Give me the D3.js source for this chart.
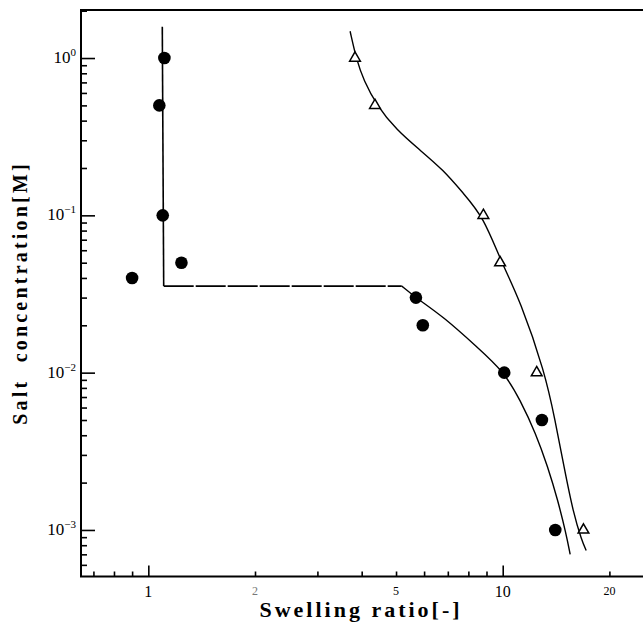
<!DOCTYPE html>
<html>
<head>
<meta charset="utf-8">
<script src="https://cdn.jsdelivr.net/npm/d3@7"></script>
<style>
  body { margin: 0; background: #fff; }
  svg { display: block; }
  text { font-family: "Liberation Serif", "Times New Roman", serif; }
</style>
</head>
<body>
<svg id="chart" width="643" height="630"></svg>
<script>
// filled circles
const swellCircle = [0.90, 1.11, 1.074, 1.098, 1.24, 5.69, 5.95, 10.1, 12.9, 14.07];
const saltCircle = [0.04, 1.0, 0.5, 0.1, 0.05, 0.03, 0.02, 0.01, 0.005, 0.001];
// open triangles
const swellTri = [3.83, 4.36, 8.82, 9.83, 12.47, 16.9];
const saltTri = [1.0, 0.5, 0.1, 0.05, 0.01, 0.001];

// fitted line for circles: vertical part, plateau, falling part
const fitVertX = [1.095, 1.105];
const fitVertY = [1.58, 0.0355];
const fitFlatX = [1.105, 5.19];
const fitFlatY = [0.0355, 0.0355];
const fitFallX = [5.19, 5.69, 6.8, 8.45, 10.1, 11.2, 12.4, 13.4, 14.3, 15.09, 15.5];
const fitFallY = [0.0355, 0.0299, 0.0227, 0.0146, 0.0101, 0.0067, 0.00411, 0.00252, 0.00155, 0.00095, 0.0007];
// fitted line for triangles
const fitTriX = [3.71, 3.87, 4.05, 4.41, 5.02, 5.84, 6.80, 7.74, 8.82, 9.94, 11.19, 13.16, 14.05, 14.89, 15.82, 16.71, 17.2];
const fitTriY = [1.48, 0.97, 0.725, 0.50, 0.348, 0.26, 0.194, 0.138, 0.098, 0.0495, 0.029, 0.01, 0.005, 0.00252, 0.00128, 0.00086, 0.00074];

// ticks
const xMajor = [1, 10];
const xMinor = [0.7, 0.8, 0.9, 2, 3, 4, 5, 6, 7, 8, 9, 20];
const xLabelsBig = [1, 10];
const xLabelsSmall = [2, 5, 20];
const yMajor = [1e-3, 1e-2, 1e-1, 1];
const yExp = ["-3", "-2", "-1", "0"];
const yMinor = [];
[1e-4, 1e-3, 1e-2, 1e-1, 1].forEach(d => {
    for (let k = 2; k <= 9; k++) yMinor.push(d * k);
});

const svg = d3.select("#chart");
const mLeft = 81, mRight = 643, mTop = 10, mBottom = 576.5;

const x = d3.scaleLog().domain([0.6457, 24.88]).range([mLeft, mRight]);
const y = d3.scaleLog().domain([5.06e-4, 2.02]).range([mBottom, mTop]);
const yMin = y.domain()[0], yMax = y.domain()[1];

// frame: left, bottom, top
svg.append("path")
    .attr("d", `M${mRight},${mTop}H${mLeft}V${mBottom}H${mRight}`)
    .attr("fill", "none")
    .attr("stroke", "#000")
    .attr("stroke-width", 2);

// x ticks (pointing inward)
let gx = svg.append("g").attr("transform", `translate(0,${mBottom})`);
gx.call(d3.axisBottom(x).tickValues(xMajor).tickSize(-11).tickFormat(""));
gx.append("g").call(d3.axisBottom(x).tickValues(xMinor).tickSize(-5).tickFormat(""));
gx.selectAll(".domain").remove();
gx.selectAll("line").attr("stroke-width", 1.6);

// y ticks
let gy = svg.append("g").attr("transform", `translate(${mLeft},0)`);
gy.call(d3.axisLeft(y).tickValues(yMajor).tickSize(-14).tickFormat(""));
gy.append("g").call(d3.axisLeft(y).tickValues(yMinor.filter(d => d > yMin && d < yMax)).tickSize(-6).tickFormat(""));
gy.selectAll(".domain").remove();
gy.selectAll("line").attr("stroke-width", 1.6);

// x labels
svg.append("g").selectAll("text")
    .data(xLabelsBig)
    .enter()
    .append("text")
    .attr("x", d => x(d))
    .attr("y", 597)
    .attr("text-anchor", "middle")
    .attr("font-size", 16)
    .text(d => d);
svg.append("g").selectAll("text")
    .data(xLabelsSmall)
    .enter()
    .append("text")
    .attr("x", d => x(d))
    .attr("y", 595)
    .attr("text-anchor", "middle")
    .attr("font-size", 12)
    .attr("fill", d => d === 2 ? "#777" : "#000")
    .text(d => d);

// y labels 10^n
let yl = svg.append("g").selectAll("text")
    .data(yMajor)
    .enter()
    .append("text")
    .attr("x", 76)
    .attr("y", d => y(d) + 5)
    .attr("text-anchor", "end")
    .attr("font-size", 17);
yl.append("tspan").text("10");
yl.append("tspan")
    .attr("dy", -7)
    .attr("font-size", 11)
    .text((d, i) => yExp[i].replace("-", "\u2212"));

// axis titles
svg.append("text")
    .attr("x", 361)
    .attr("y", 617)
    .attr("text-anchor", "middle")
    .attr("font-size", 22)
    .attr("font-weight", "bold")
    .attr("letter-spacing", 3)
    .text("Swelling ratio[-]");
svg.append("text")
    .attr("transform", "translate(27,293) rotate(-90)")
    .attr("text-anchor", "middle")
    .attr("font-size", 20)
    .attr("font-weight", "bold")
    .attr("letter-spacing", 3.2)
    .attr("xml:space", "preserve")
    .style("white-space", "pre")
    .text("Salt  concentration[M]");

// fitted lines
const line = d3.line().x(d => x(d[0])).y(d => y(d[1]));
const curve = d3.line().x(d => x(d[0])).y(d => y(d[1])).curve(d3.curveBasis);

svg.append("path")
    .datum(d3.zip(fitVertX, fitVertY))
    .attr("d", line)
    .attr("fill", "none").attr("stroke", "#000").attr("stroke-width", 1.6);
svg.append("path")
    .datum(d3.zip(fitFlatX, fitFlatY))
    .attr("d", line)
    .attr("fill", "none").attr("stroke", "#000").attr("stroke-width", 1.6)
    .attr("stroke-dasharray", "30,2");
svg.append("path")
    .datum(d3.zip(fitFallX, fitFallY))
    .attr("d", curve)
    .attr("fill", "none").attr("stroke", "#000").attr("stroke-width", 1.4);
svg.append("path")
    .datum(d3.zip(fitTriX, fitTriY))
    .attr("d", curve)
    .attr("fill", "none").attr("stroke", "#000").attr("stroke-width", 1.4);

// markers
svg.append("g").selectAll("circle")
    .data(d3.zip(swellCircle, saltCircle))
    .enter()
    .append("circle")
    .attr("cx", d => x(d[0]))
    .attr("cy", d => y(d[1]))
    .attr("r", 6.3)
    .attr("fill", "#000");
svg.append("g").selectAll("path")
    .data(d3.zip(swellTri, saltTri))
    .enter()
    .append("path")
    .attr("transform", d => `translate(${x(d[0])},${y(d[1])})`)
    .attr("d", d3.symbol().type(d3.symbolTriangle).size(50))
    .attr("fill", "#fff")
    .attr("stroke", "#000")
    .attr("stroke-width", 1.5);
</script>
</body>
</html>
